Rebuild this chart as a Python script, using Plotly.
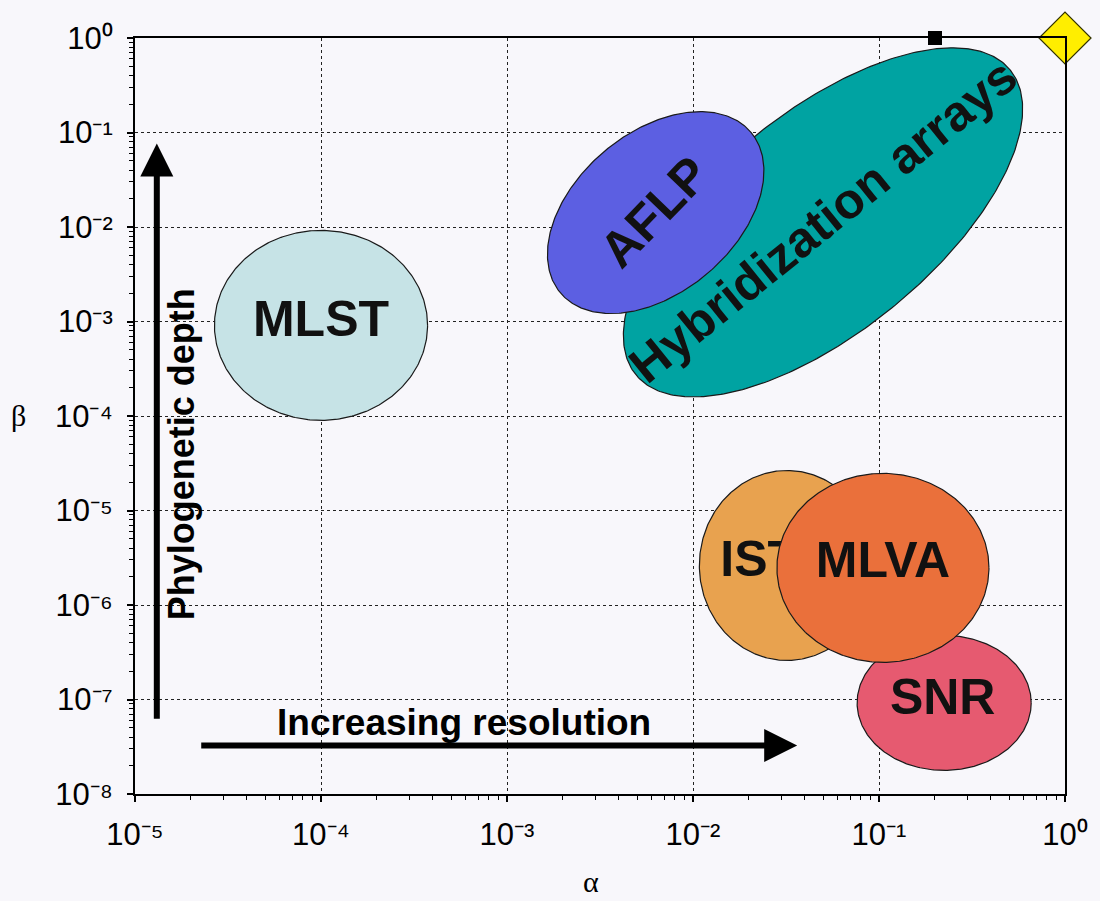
import numpy as np
import plotly.graph_objects as go

# ---- data ----
methods = ["Hybridization arrays", "AFLP", "MLST", "IST", "SNR", "MLVA"]  # drawing order
alpha_center = [5.0e-2, 6.3e-3, 1.0e-4, 3.2e-2, 2.24e-1, 1.05e-1]
beta_center = [1.12e-2, 1.42e-2, 9.1e-4, 2.62e-6, 9.2e-8, 2.47e-6]
alpha_spread = [1.296, 0.669, 0.573, 0.471, 0.468, 0.570]   # semi-axis, decades of alpha
beta_spread = [1.164, 0.847, 1.005, 1.005, 0.714, 1.000]    # semi-axis, decades of beta
tilt_deg = [39, 40, 0, 0, 0, 0]

label_alpha = [5.0e-2, 6.2e-3, 1.0e-4, 2.27e-2, 2.2e-1, 1.05e-1]
label_beta = [1.15e-2, 1.45e-2, 9.6e-4, 2.75e-6, 9.6e-8, 2.7e-6]
label_angle = [-39, -46, 0, 0, 0, 0]

ref_alpha = [0.2, 1.0]
ref_beta = [1.0, 1.0]

x_ticks = [1e-5, 1e-4, 1e-3, 1e-2, 1e-1, 1e0]
y_ticks = [1e-8, 1e-7, 1e-6, 1e-5, 1e-4, 1e-3, 1e-2, 1e-1, 1e0]
x_tick_labels = ["10⁻⁵", "10⁻⁴", "10⁻³", "10⁻²", "10⁻¹", "10⁰"]
y_tick_labels = ["10⁻⁸", "10⁻⁷", "10⁻⁶", "10⁻⁵", "10⁻⁴", "10⁻³", "10⁻²", "10⁻¹", "10⁰"]

colors = ["#00A3A2", "#5C5FE2", "#C6E3E6", "#E8A24F", "#E65A70", "#EA703B"]
BG = "#F8F7FB"
FONT = "Liberation Sans, Arial"

M = dict(l=135, r=32, t=38, b=107)
W = 1100 - M["l"] - M["r"]
H = 901 - M["t"] - M["b"]
sx = W / 5.0
sy = H / 8.0

fig = go.Figure()

t = np.linspace(0, 2 * np.pi, 361)
for name, ca, cb, a, b, th, col, la, lb, ang in zip(
        methods, alpha_center, beta_center, alpha_spread, beta_spread, tilt_deg,
        colors, label_alpha, label_beta, label_angle):
    U = a * sx * np.cos(t)
    V = b * sy * np.sin(t)
    r = np.radians(th)
    Ur = U * np.cos(r) - V * np.sin(r)
    Vr = U * np.sin(r) + V * np.cos(r)
    xs = 10 ** (np.log10(ca) + Ur / sx)
    ys = 10 ** (np.log10(cb) + Vr / sy)
    fig.add_trace(go.Scatter(x=xs, y=ys, mode="lines", fill="toself",
                             fillcolor=col, line=dict(color="#1a1a1a", width=1.2),
                             name=name, showlegend=False, hoverinfo="name"))
    if ang == 0:
        # unrotated labels drawn in trace order so later ellipses can cover them
        fig.add_trace(go.Scatter(x=[la], y=[lb], mode="text", text=["<b>%s</b>" % name],
                                 textposition="middle center",
                                 textfont=dict(family=FONT, size=50, color="#111111"),
                                 showlegend=False, hoverinfo="skip"))

for name, la, lb, ang in zip(methods, label_alpha, label_beta, label_angle):
    if ang != 0:
        fig.add_annotation(x=np.log10(la), y=np.log10(lb), xref="x", yref="y",
                           text="<b>%s</b>" % name, showarrow=False, textangle=ang,
                           font=dict(family=FONT, size=50, color="#111111"))

fig.add_trace(go.Scatter(x=[ref_alpha[0]], y=[ref_beta[0]], mode="markers",
                         marker=dict(symbol="square", size=14, color="black"),
                         cliponaxis=False, showlegend=False))
fig.add_trace(go.Scatter(x=[ref_alpha[1]], y=[ref_beta[1]], mode="markers",
                         marker=dict(symbol="diamond", size=40, color="#FFEE00",
                                     line=dict(color="#333300", width=1.2)),
                         cliponaxis=False, showlegend=False))

# arrows
fig.add_annotation(x=np.log10(1.31e-5), y=-1.116, ax=np.log10(1.31e-5), ay=-7.22,
                   xref="x", yref="y", axref="x", ayref="y", text="",
                   showarrow=True, arrowhead=2, arrowsize=1.1, arrowwidth=6,
                   arrowcolor="black")
fig.add_annotation(x=-1.44, y=-7.487, ax=-4.652, ay=-7.487,
                   xref="x", yref="y", axref="x", ayref="y", text="",
                   showarrow=True, arrowhead=2, arrowsize=1.1, arrowwidth=6,
                   arrowcolor="black")
fig.add_annotation(x=-4.748, y=-4.407, xref="x", yref="y",
                   text="<b>Phylogenetic depth</b>", showarrow=False, textangle=-90,
                   font=dict(family=FONT, size=36, color="black"))
fig.add_annotation(x=-3.233, y=-7.243, xref="x", yref="y",
                   text="<b>Increasing resolution</b>", showarrow=False,
                   font=dict(family=FONT, size=37, color="black"))

# axis titles
fig.add_annotation(x=(18 - M["l"]) / W, y=(H + M["t"] - 415) / H, xref="paper", yref="paper",
                   xanchor="center", yanchor="middle", text="β", showarrow=False,
                   font=dict(family="Liberation Serif", size=30, color="black"))
fig.add_annotation(x=(592 - M["l"]) / W, y=(H + M["t"] - 882) / H, xref="paper", yref="paper",
                   xanchor="center", yanchor="middle", text="α", showarrow=False,
                   font=dict(family="Liberation Serif", size=30, color="black"))

minor_x = [m * 10.0 ** k for k in range(-5, 0) for m in range(2, 10)]
minor_y = [m * 10.0 ** k for k in range(-8, 0) for m in range(2, 10)]

axis_common = dict(type="log", showline=True, linecolor="black", linewidth=2,
                   mirror=True, ticks="outside", ticklen=6, tickwidth=1.5,
                   tickcolor="black", showgrid=True, gridcolor="#222222",
                   griddash="dot", gridwidth=1, zeroline=False,
                   tickfont=dict(family=FONT, size=31, color="black"))

fig.update_xaxes(range=[-5, 0], tickmode="array", tickvals=x_ticks,
                 ticktext=x_tick_labels, ticklabelstandoff=6,
                 minor=dict(tickmode="array", tickvals=minor_x, ticks="outside",
                            ticklen=4, tickcolor="black", tickwidth=1, showgrid=False),
                 **axis_common)
fig.update_yaxes(range=[-8, 0], tickmode="array", tickvals=y_ticks,
                 ticktext=y_tick_labels, ticklabelstandoff=8,
                 minor=dict(tickmode="array", tickvals=minor_y, ticks="outside",
                            ticklen=4, tickcolor="black", tickwidth=1, showgrid=False),
                 **axis_common)

fig.update_layout(width=1100, height=901, margin=M, paper_bgcolor=BG,
                  plot_bgcolor=BG, showlegend=False)

fig.write_html("out.html")
